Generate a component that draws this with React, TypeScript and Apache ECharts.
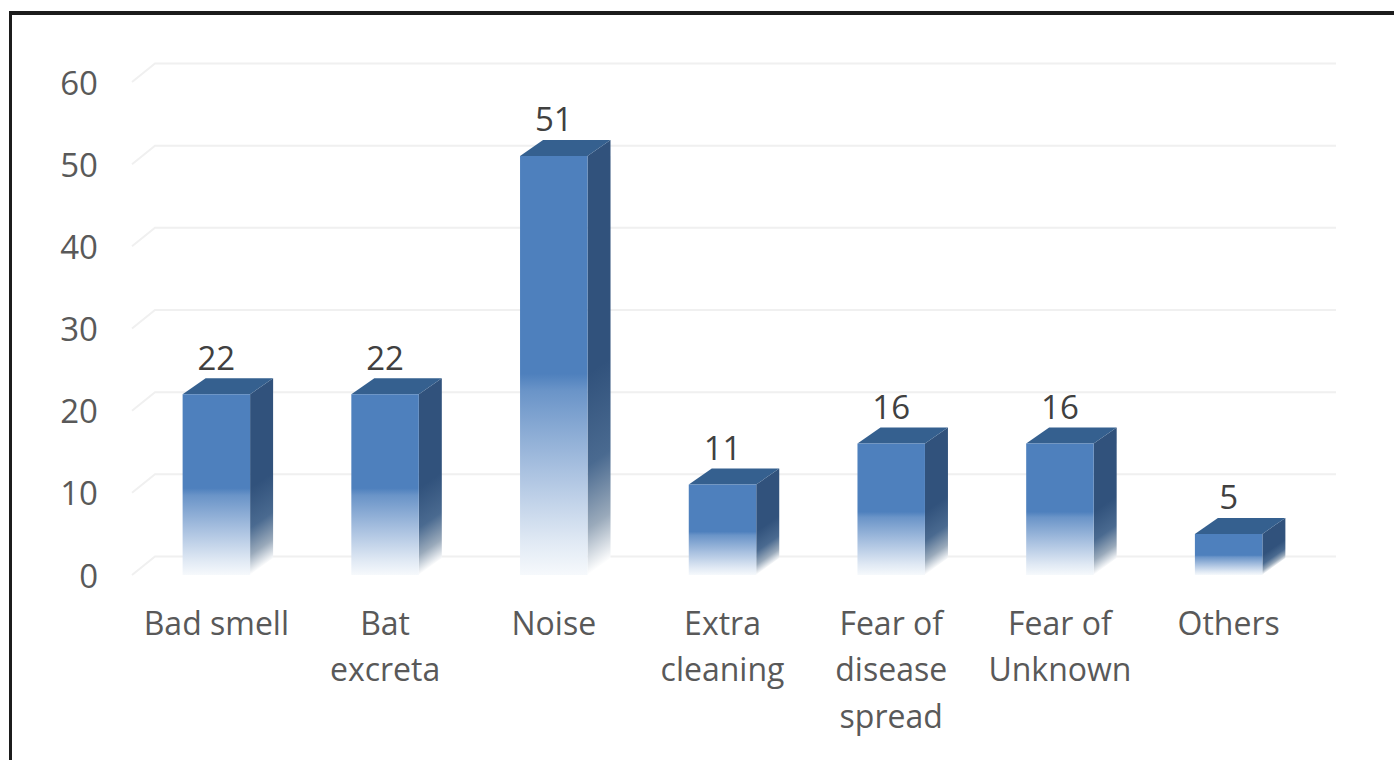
import React, { useEffect, useRef } from "react";
import * as echarts from "echarts";

const categories = ["Bad smell", "Bat\nexcreta", "Noise", "Extra\ncleaning", "Fear of\ndisease\nspread", "Fear of\nUnknown", "Others"];
const counts = [22, 22, 51, 11, 16, 16, 5];
const gridTicks = [0, 10, 20, 30, 40, 50, 60];

const FONT = "'Open Sans', sans-serif";
const DX = 23;
const DY = 16;
const BAR_RATIO = 0.4;

function fade(stops: [number, string][]) {
  return stops.map(([offset, color]) => ({ offset, color }));
}

function renderBar(params: any, api: any) {
  const i = api.value(0);
  const v = api.value(1);
  const top = api.coord([i, v]);
  const base = api.coord([i, 0]);
  const w = api.size([1, 0])[0] * BAR_RATIO;
  const l = top[0] - w / 2;
  const r = top[0] + w / 2;
  const t = top[1];
  const b = base[1];
  const H = b - t;
  const frontFill = new echarts.graphic.LinearGradient(0, 0, 0, 1, fade([
    [0, "#4e80bd"],
    [0.52, "#4e80bd"],
    [0.56, "#6a94c8"],
    [0.75, "#a9c1e0"],
    [0.92, "#e0e9f4"],
    [1, "#f6f9fc"],
  ]));
  // Isolines of the side-wall fade follow the slant of its bottom edge.
  const k = (H * DX) / (DX * DX + DY * DY);
  const sideFill = new echarts.graphic.LinearGradient(r, t, r + k * DY, t + k * DX, fade([
    [0, "#31527c"],
    [0.52, "#31527c"],
    [0.74, "#4a6a90"],
    [0.89, "#9aaabb"],
    [1, "#ffffff"],
  ]), true);
  return {
    type: "group",
    children: [
      {
        type: "polygon",
        shape: { points: [[r, t], [r + DX, t - DY], [r + DX, b - DY - 1], [r, b]] },
        style: { fill: sideFill },
      },
      {
        type: "polygon",
        shape: { points: [[l, t], [l + DX, t - DY], [r + DX, t - DY], [r, t]] },
        style: { fill: "#35608f" },
      },
      {
        type: "rect",
        shape: { x: l, y: t, width: w, height: b - t },
        style: { fill: frontFill },
      },
      {
        type: "text",
        x: top[0],
        y: t - DY - 21,
        style: {
          text: String(v),
          fill: "#404040",
          font: `33px ${FONT}`,
          align: "center",
          verticalAlign: "middle",
        },
      },
    ],
  };
}

function renderGridLine(params: any, api: any) {
  const p = api.coord([0, api.value(0)]);
  const cs = params.coordSys;
  const y = p[1];
  return {
    type: "polyline",
    shape: {
      points: [
        [cs.x, y],
        [cs.x + DX, y - 18.5],
        [cs.x + cs.width + DX, y - 18.5],
      ],
    },
    style: { stroke: "#f0f0f0", lineWidth: 2, fill: "none" },
  };
}

export default function App() {
  const ref = useRef<HTMLDivElement>(null);
  useEffect(() => {
    document.body.style.margin = "0";
    const chart = echarts.init(ref.current!, undefined, { renderer: "svg" });
    chart.setOption({
      animation: false,
      backgroundColor: "#ffffff",
      grid: { left: 132, right: 81, top: 82, bottom: 185, containLabel: false },
      xAxis: {
        type: "category",
        data: categories,
        axisLine: { show: false },
        axisTick: { show: false },
        axisLabel: {
          interval: 0,
          color: "#595959",
          fontFamily: FONT,
          fontSize: 32,
          lineHeight: 46.5,
          margin: 24,
          verticalAlign: "top",
        },
      },
      yAxis: {
        type: "value",
        min: 0,
        max: 60,
        interval: 10,
        axisLine: { show: false },
        axisTick: { show: false },
        splitLine: { show: false },
        axisLabel: { color: "#595959", fontFamily: FONT, fontSize: 33, margin: 34 },
      },
      graphic: [
        { type: "rect", shape: { x: 9, y: 11, width: 1385, height: 4 }, style: { fill: "#1c1c1c" } },
        { type: "rect", shape: { x: 9, y: 11, width: 3, height: 749 }, style: { fill: "#1c1c1c" } },
      ],
      series: [
        {
          type: "custom",
          silent: true,
          z: 1,
          renderItem: renderGridLine,
          data: gridTicks.map((t) => [t]),
          encode: { y: 0 },
        },
        {
          type: "custom",
          silent: true,
          z: 2,
          renderItem: renderBar,
          data: counts.map((v, i) => [i, v]),
          encode: { x: 0, y: 1 },
        },
      ],
    });
    return () => chart.dispose();
  }, []);
  return <div ref={ref} style={{ width: 1394, height: 760 }} />;
}
